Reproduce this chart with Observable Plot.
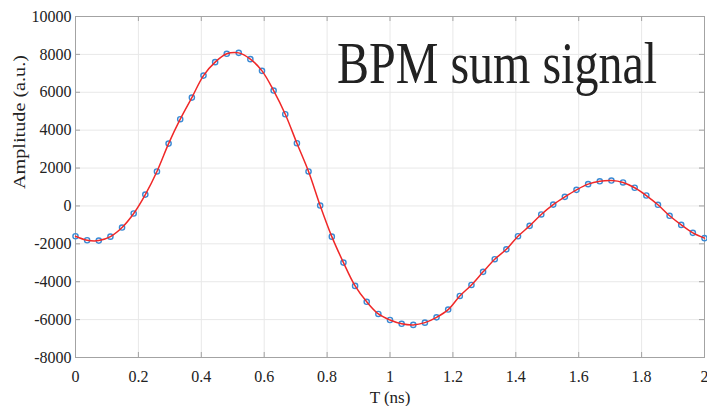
<!DOCTYPE html>
<html>
<head>
<meta charset="utf-8">
<script src="https://cdn.jsdelivr.net/npm/d3@7"></script>
<script src="https://cdn.jsdelivr.net/npm/@observablehq/plot@0.6"></script>
<style>
  html, body { margin: 0; padding: 0; background: #fff; }
  #wrap { position: relative; width: 707px; height: 406px; }
  #title {
    position: absolute; left: 337px; top: 42.8px;
    font-family: 'Liberation Serif', 'Times New Roman', serif;
    font-size: 48px; line-height: 48px; color: #222; white-space: nowrap;
    transform: scaleY(1.25); transform-origin: 0 40.2px;
  }
</style>
</head>
<body>
<div id="wrap"><div id="chart"></div><div id="title"></div></div>
<script>
const T = [0, 0.037, 0.074, 0.111, 0.148, 0.185, 0.222, 0.259, 0.296, 0.333,
  0.370, 0.407, 0.444, 0.481, 0.519, 0.556, 0.593, 0.630, 0.667, 0.704,
  0.741, 0.778, 0.815, 0.852, 0.889, 0.926, 0.963, 1.000, 1.037, 1.074,
  1.111, 1.148, 1.185, 1.222, 1.259, 1.296, 1.333, 1.370, 1.407, 1.444,
  1.481, 1.519, 1.556, 1.593, 1.630, 1.667, 1.704, 1.741, 1.778, 1.815,
  1.852, 1.889, 1.926, 1.963, 2.000];
const amplitude = [-1600, -1810, -1830, -1620, -1140, -400, 600, 1820, 3290, 4580,
  5720, 6880, 7590, 8030, 8080, 7750, 7130, 6090, 4840, 3310,
  1820, 20, -1620, -2990, -4220, -5060, -5700, -6020, -6220, -6280,
  -6160, -5880, -5470, -4750, -4170, -3480, -2810, -2290, -1600, -1050,
  -450, 70, 480, 850, 1150, 1300, 1340, 1240, 960, 550,
  60, -520, -1000, -1420, -1700];
const xTicks = [0, 0.2, 0.4, 0.6, 0.8, 1, 1.2, 1.4, 1.6, 1.8, 2];
const yTicks = [-8000, -6000, -4000, -2000, 0, 2000, 4000, 6000, 8000, 10000];
const titleText = "BPM sum signal";
const xLabel = "T (ns)";
const yLabel = "Amplitude (a.u.)";

const data = T.map((t, i) => ({t, a: amplitude[i]}));

const W = 707, H = 406;
const mL = 75, mR = 3, mT = 16, mB = 49;
const plotW = W - mL - mR, plotH = H - mT - mB;
const tickLen = 5;
const axisGray = "#a3a3a3";

const chart = Plot.plot({
  width: W,
  height: H,
  marginLeft: mL,
  marginRight: mR,
  marginTop: mT,
  marginBottom: mB,
  style: {fontFamily: "'Liberation Serif', 'Times New Roman', serif", fontSize: "16px", color: "#222", background: "#fff"},
  x: {domain: [0, 2]},
  y: {domain: [-8000, 10000]},
  marks: [
    Plot.gridX(xTicks, {stroke: "#e8e8e8", strokeOpacity: 1}),
    Plot.gridY(yTicks, {stroke: "#e8e8e8", strokeOpacity: 1}),
    Plot.frame({stroke: axisGray}),
    Plot.tickX(xTicks, {x: d => d, stroke: axisGray, insetTop: plotH - tickLen}),
    Plot.tickX(xTicks, {x: d => d, stroke: axisGray, insetBottom: plotH - tickLen}),
    Plot.tickY(yTicks, {y: d => d, stroke: axisGray, insetRight: plotW - tickLen}),
    Plot.tickY(yTicks, {y: d => d, stroke: axisGray, insetLeft: plotW - tickLen}),
    Plot.axisX(xTicks, {anchor: "bottom", tickSize: 0, tickPadding: 13, label: null, fill: "#222", tickFormat: d => String(d)}),
    Plot.axisY(yTicks, {anchor: "left", tickSize: 0, tickPadding: 4, label: null, fill: "#222", tickFormat: d => String(d)}),
    Plot.text([xLabel], {text: d => d, frameAnchor: "bottom", dy: 45, lineAnchor: "bottom", fontSize: 17, fill: "#222"}),
    Plot.text([yLabel], {text: d => d, frameAnchor: "left", dx: -56, dy: 2, rotate: -90, lineAnchor: "middle", fontSize: 17, fill: "#222", className: "ylab"}),
    Plot.dot(data, {x: "t", y: "a", r: 2.6, stroke: "#3a8ad4", strokeWidth: 1.4, fill: "none"}),
    Plot.line(data, {x: "t", y: "a", stroke: "#f02828", strokeWidth: 1.5, curve: "catmull-rom"})
  ]
});

d3.select(chart).selectAll(".ylab text").attr("textLength", 134).attr("lengthAdjust", "spacingAndGlyphs");
document.getElementById("chart").appendChild(chart);
document.getElementById("title").textContent = titleText;
</script>
</body>
</html>
